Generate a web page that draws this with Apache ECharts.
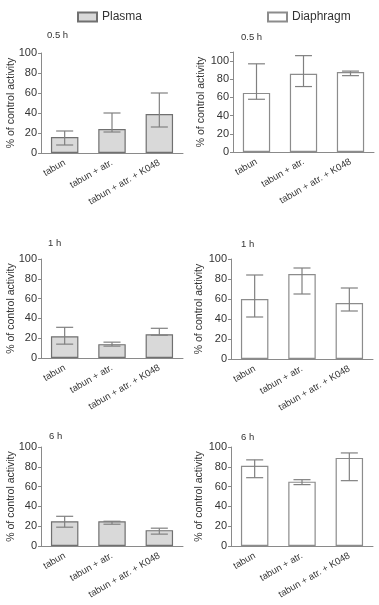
<!DOCTYPE html>
<html>
<head>
<meta charset="utf-8">
<script src="https://cdn.jsdelivr.net/npm/echarts@6/dist/echarts.min.js"></script>
<style>
  html, body { margin: 0; padding: 0; background: #fff; }
  #chart { width: 379px; height: 605px; }
</style>
</head>
<body>
<div id="chart"></div>
<script>
// categories shared by every panel
var categories = ['tabun', 'tabun + atr.', 'tabun + atr. + K048'];
var panelTitles = ['0.5 h', '1 h', '6 h'];

// plasma, % of control activity (mean, lower / upper error)
var plasma05 = [16, 24, 39];
var plasma05Low = [8, 21, 26];
var plasma05High = [22, 40, 60];
var plasma1 = [22, 14, 24];
var plasma1Low = [14, 12, 23];
var plasma1High = [31, 16, 30];
var plasma6 = [25, 25, 16];
var plasma6Low = [19, 22, 12];
var plasma6High = [30, 25, 18];

// diaphragm
var diaph05 = [65, 86, 88];
var diaph05Low = [58, 72, 84];
var diaph05High = [97, 106, 89];
var diaph1 = [60, 85, 56];
var diaph1Low = [42, 65, 48];
var diaph1High = [84, 91, 71];
var diaph6 = [81, 65, 89];
var diaph6Low = [69, 62, 66];
var diaph6High = [87, 67, 94];

var yTicks = [0, 20, 40, 60, 80, 100];

var chart = echarts.init(document.getElementById('chart'));
var font = 'Liberation Sans, Arial, sans-serif';

// grid boxes in px: [left, top, width, height, yMax]
var boxes = [
    [41, 53, 142, 100, 100], [233, 52, 141, 100, 110],
    [41, 259, 142, 99, 100], [231, 259, 142, 100, 100],
    [41, 447, 142, 99, 100], [231, 447, 142, 99, 100]
];
// where each panel's time label sits: [x, y]
var titlePos = [[42, 25], [236, 27], [43, 233], [236, 234], [44, 426], [236, 427]];

var panels = [
    { v: plasma05, lo: plasma05Low, hi: plasma05High, plasma: true },
    { v: diaph05, lo: diaph05Low, hi: diaph05High, plasma: false },
    { v: plasma1, lo: plasma1Low, hi: plasma1High, plasma: true },
    { v: diaph1, lo: diaph1Low, hi: diaph1High, plasma: false },
    { v: plasma6, lo: plasma6Low, hi: plasma6High, plasma: true },
    { v: diaph6, lo: diaph6Low, hi: diaph6High, plasma: false }
];

var grids = [], xAxes = [], yAxes = [], series = [], titles = [];

panels.forEach(function (p, i) {
    var b = boxes[i];
    grids.push({ left: b[0], top: b[1], width: b[2], height: b[3] });
    xAxes.push({
        type: 'category', gridIndex: i, data: categories,
        axisLine: { lineStyle: { color: '#8a8a8a' } },
        axisTick: { show: false },
        axisLabel: { rotate: 30, fontSize: 9.5, color: '#333', fontFamily: font, margin: 9, interval: 0 }
    });
    yAxes.push({
        type: 'value', gridIndex: i, min: 0, max: b[4], interval: 20,
        name: '% of control activity', nameLocation: 'middle', nameGap: p.plasma ? 24 : 26,
        nameMoveOverlap: false,
        nameTextStyle: { fontSize: 10.5, color: '#333', fontFamily: font },
        axisLine: { show: true, lineStyle: { color: '#8a8a8a' } },
        axisTick: { show: true, length: 3, lineStyle: { color: '#8a8a8a' } },
        splitLine: { show: false },
        axisLabel: {
            fontSize: 11, color: '#333', fontFamily: font, margin: 4,
            formatter: function (v) { return yTicks.indexOf(v) >= 0 ? v : ''; }
        }
    });
    series.push({
        name: p.plasma ? 'Plasma' : 'Diaphragm',
        type: 'bar', xAxisIndex: i, yAxisIndex: i,
        data: p.v, barCategoryGap: '42%',
        itemStyle: {
            color: p.plasma ? '#d9d9d9' : '#ffffff',
            borderColor: p.plasma ? '#707070' : '#8c8c8c', borderWidth: 1.2
        },
        silent: true
    });
    var errData = p.v.map(function (v, k) { return [k, p.lo[k], p.hi[k]]; });
    series.push({
        type: 'custom', xAxisIndex: i, yAxisIndex: i, data: errData,
        encode: { x: 0, y: [1, 2] }, silent: true, z: 5,
        renderItem: function (params, api) {
            var lo = api.coord([api.value(0), api.value(1)]);
            var hi = api.coord([api.value(0), api.value(2)]);
            var half = api.size([1, 0])[0] * 0.18;
            var st = { stroke: '#808080', lineWidth: 1.2 };
            return {
                type: 'group', children: [
                    { type: 'line', shape: { x1: lo[0], y1: lo[1], x2: hi[0], y2: hi[1] }, style: st },
                    { type: 'line', shape: { x1: lo[0] - half, y1: lo[1], x2: lo[0] + half, y2: lo[1] }, style: st },
                    { type: 'line', shape: { x1: hi[0] - half, y1: hi[1], x2: hi[0] + half, y2: hi[1] }, style: st }
                ]
            };
        }
    });
    titles.push({
        text: panelTitles[Math.floor(i / 2)],
        left: titlePos[i][0], top: titlePos[i][1],
        textStyle: { fontSize: 9.5, fontWeight: 'normal', color: '#333', fontFamily: font }
    });
});

chart.setOption({
    animation: false,
    title: titles,
    legend: [{
        data: ['Plasma'], left: 72, top: 6, itemWidth: 19, itemHeight: 9,
        icon: 'rect',
        textStyle: { fontSize: 12, color: '#333', fontFamily: font }
    }, {
        data: ['Diaphragm'], left: 262, top: 6, itemWidth: 19, itemHeight: 9,
        icon: 'rect',
        textStyle: { fontSize: 12, color: '#333', fontFamily: font }
    }],
    grid: grids,
    xAxis: xAxes,
    yAxis: yAxes,
    series: series
});
</script>
</body>
</html>
